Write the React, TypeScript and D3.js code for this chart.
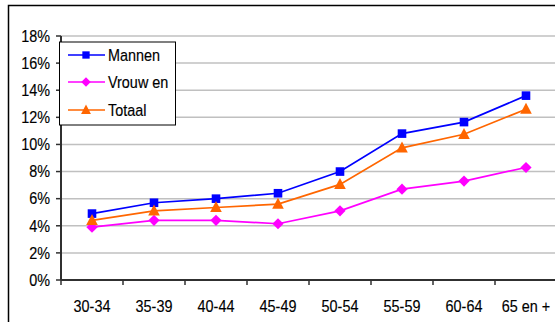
import React from "react";
import * as d3 from "d3";

const categories = ["30-34", "35-39", "40-44", "45-49", "50-54", "55-59", "60-64", "65 en +"];
const mannen = [4.9, 5.7, 6.0, 6.4, 8.0, 10.8, 11.65, 13.6];
const vrouwen = [3.9, 4.4, 4.4, 4.15, 5.1, 6.7, 7.3, 8.3];
const totaal = [4.4, 5.1, 5.35, 5.6, 7.05, 9.75, 10.75, 12.6];
const yTicks = [0, 2, 4, 6, 8, 10, 12, 14, 16, 18];
const seriesNames = ["Mannen", "Vrouw en", "Totaal"];

const W = 555;
const H = 322;
const FONT = "Arial, 'Liberation Sans', sans-serif";

export default function App() {
  const x = d3.scaleBand<string>().domain(categories).range([61, 557]);
  const y = d3.scaleLinear().domain([0, 18]).range([280, 36]);

  const series = [
    { name: seriesNames[0], values: mannen, color: "#0000FF", shape: "square" },
    { name: seriesNames[1], values: vrouwen, color: "#FF00FF", shape: "diamond" },
    { name: seriesNames[2], values: totaal, color: "#FF6600", shape: "triangle" },
  ];

  const line = d3
    .line<number>()
    .x((_, i) => (x(categories[i]) as number) + x.bandwidth() / 2)
    .y((d) => y(d));

  const marker = (shape: string, cx: number, cy: number, color: string, s = 1) => {
    if (shape === "square") {
      const h = 4.3 * s;
      return <rect x={cx - h} y={cy - h} width={2 * h} height={2 * h} fill={color} />;
    }
    if (shape === "diamond") {
      const h = 5.6 * s;
      return (
        <path d={`M${cx},${cy - h}L${cx + h},${cy}L${cx},${cy + h}L${cx - h},${cy}Z`} fill={color} />
      );
    }
    const h = 5.8 * s;
    return (
      <path
        d={`M${cx},${cy - h * 1.1}L${cx + h},${cy + h * 0.8}L${cx - h},${cy + h * 0.8}Z`}
        fill={color}
      />
    );
  };

  const txt = (t: string, tx: number, ty: number, anchor: string) => (
    <text
      transform={`translate(${tx},${ty}) scale(0.9,1)`}
      textAnchor={anchor}
      fontFamily={FONT}
      fontSize={16}
      fill="#000"
      stroke="#000"
      strokeWidth={0.15}
    >
      {t}
    </text>
  );

  return (
    <svg
      width={W}
      height={H}
      style={{ position: "fixed", left: 0, top: 0, background: "#fff" }}
    >
      <rect x={0} y={0} width={W} height={H} fill="#fff" />
      <rect x={8.5} y={5.5} width={600} height={400} fill="none" stroke="#000" strokeWidth={1.5} />
      {/* gridlines */}
      {yTicks.slice(1).map((t) => (
        <line key={t} x1={61} x2={560} y1={y(t)} y2={y(t)} stroke="#c0c0c0" strokeWidth={1.5} />
      ))}
      {/* y axis */}
      <line x1={61} x2={61} y1={36} y2={280} stroke="#303030" strokeWidth={2} />
      {yTicks.map((t) => (
        <g key={t}>
          <line x1={56} x2={61} y1={y(t)} y2={y(t)} stroke="#303030" strokeWidth={1.5} />
          {txt(`${t}%`, 50, y(t) + 5.8, "end")}
        </g>
      ))}
      {/* x axis */}
      <line x1={61} x2={560} y1={280} y2={280} stroke="#303030" strokeWidth={2} />
      {categories.map((c, i) => (
        <g key={c}>
          <line
            x1={x(c) as number}
            x2={x(c) as number}
            y1={280}
            y2={285}
            stroke="#303030"
            strokeWidth={1.5}
          />
          {txt(c, (x(c) as number) + x.bandwidth() / 2, 311.5, "middle")}
        </g>
      ))}
      {/* series */}
      {series.map((s) => (
        <g key={s.name}>
          <path d={line(s.values) || ""} fill="none" stroke={s.color} strokeWidth={1.7} />
          {s.values.map((v, i) => (
            <g key={i}>
              {marker(s.shape, (x(categories[i]) as number) + x.bandwidth() / 2, y(v), s.color)}
            </g>
          ))}
        </g>
      ))}
      {/* legend */}
      <rect x={59.5} y={42} width={116} height={83} fill="#fff" stroke="#000" strokeWidth={1} />
      {series.map((s, i) => {
        const ly = [55, 82, 110][i];
        return (
          <g key={s.name}>
            <line x1={68} x2={105} y1={ly} y2={ly} stroke={s.color} strokeWidth={1.7} />
            {marker(s.shape, 86, ly, s.color, 0.85)}
            {txt(s.name, 108, ly + 5.5, "start")}
          </g>
        );
      })}
    </svg>
  );
}
